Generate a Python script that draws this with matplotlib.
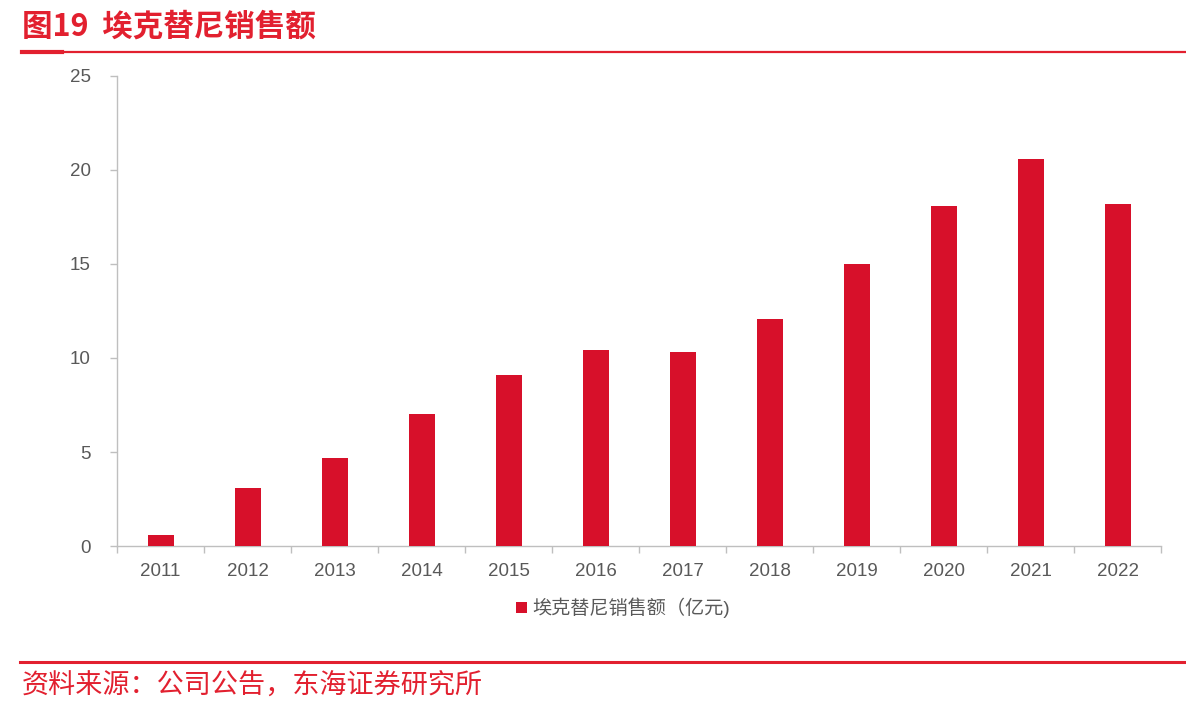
import numpy as np
import matplotlib
matplotlib.use("Agg")
import matplotlib.pyplot as plt
from matplotlib.lines import Line2D

# data
years = ['2011', '2012', '2013', '2014', '2015', '2016',
         '2017', '2018', '2019', '2020', '2021', '2022']
sales = [0.6, 3.1, 4.7, 7.0, 9.1, 10.4, 10.3, 12.1, 15.0, 18.1, 20.6, 18.2]
y_ticks = [0, 5, 10, 15, 20, 25]

title = '图19  埃克替尼销售额'
legend_label = '埃克替尼销售额（亿元)'
source = '资料来源：公司公告，东海证券研究所'

red = '#D7102A'
head_red = '#E2202F'
grey_txt = '#595959'
grey_line = '#BFBFBF'
fonts = ['Liberation Sans', 'Noto Sans CJK SC', 'DejaVu Sans']
plt.rcParams['font.family'] = fonts

fig = plt.figure(figsize=(11.86, 7.08), dpi=100)
ax = fig.add_axes([0.0987, 0.2288, 0.8803, 0.6639])

x = np.arange(len(years))
bars = ax.bar(x, sales, width=0.3, color=red, label=legend_label, zorder=3)

ax.set_xlim(-0.5, len(years) - 0.5)
ax.set_ylim(0, 25)
ax.set_yticks(y_ticks)
ax.set_xticks(x)
ax.set_xticklabels(years)
ax.set_xticks(np.arange(-0.5, len(years)), minor=True)
ax.tick_params(axis='x', which='major', length=0, pad=12, labelsize=13.5, labelcolor=grey_txt)
ax.tick_params(axis='x', which='minor', length=5, width=1, color=grey_line, direction='out')
ax.tick_params(axis='y', length=5, width=1, color=grey_line, direction='out',
               pad=14, labelsize=13.5, labelcolor=grey_txt)

for s in ['top', 'right']:
    ax.spines[s].set_visible(False)
for s in ['left', 'bottom']:
    ax.spines[s].set_color(grey_line)
    ax.spines[s].set_linewidth(1)

leg = ax.legend(loc='center', bbox_to_anchor=(0.485, -0.132), frameon=False,
                fontsize=13.8, handlelength=0.55, handleheight=0.55, handletextpad=0.3)
for t in leg.get_texts():
    t.set_color(grey_txt)

# header and footer
fig.text(22 / 1186, 1 - 27 / 708, title, color=head_red, fontsize=22, fontweight='bold',
         family=['Noto Sans CJK SC', 'DejaVu Sans'], va='center', ha='left')
fig.add_artist(Line2D([22 / 1186, 1.0], [1 - 52 / 708] * 2, color=head_red, lw=1.6))
fig.add_artist(Line2D([22 / 1186, 62 / 1186], [1 - 52 / 708] * 2, color=head_red, lw=3))
fig.add_artist(Line2D([20 / 1186, 1.0], [1 - 662 / 708] * 2, color=head_red, lw=2.2))
fig.text(22 / 1186, 1 - 686 / 708, source, color=head_red, fontsize=19.5,
         family=['Noto Sans CJK SC', 'DejaVu Sans'], va='center', ha='left')

fig.savefig('out.png', dpi=100)
